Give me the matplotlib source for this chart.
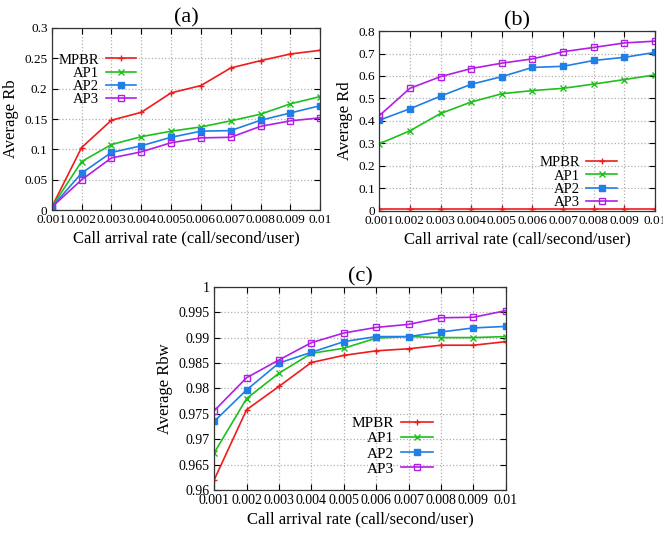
import numpy as np
import matplotlib
matplotlib.use("Agg")
import matplotlib.pyplot as plt
from matplotlib.ticker import FuncFormatter

plt.rcParams['font.family'] = ['Liberation Serif', 'DejaVu Serif']

# data
rate = [0.001, 0.002, 0.003, 0.004, 0.005, 0.006, 0.007, 0.008, 0.009, 0.01]
rate_labels = ['0.001', '0.002', '0.003', '0.004', '0.005', '0.006', '0.007', '0.008', '0.009', '0.01']
series = ['MPBR', 'AP1', 'AP2', 'AP3']

rb_mpbr = [0.005, 0.103, 0.148, 0.161, 0.193, 0.205, 0.234, 0.246, 0.257, 0.263]
rb_ap1 = [0.005, 0.080, 0.108, 0.121, 0.130, 0.137, 0.147, 0.158, 0.175, 0.187]
rb_ap2 = [0.005, 0.061, 0.095, 0.106, 0.120, 0.130, 0.131, 0.148, 0.160, 0.172]
rb_ap3 = [0.005, 0.050, 0.086, 0.096, 0.111, 0.119, 0.120, 0.138, 0.147, 0.152]

rd_mpbr = [0.008] * 10
rd_ap1 = [0.298, 0.356, 0.433, 0.484, 0.521, 0.535, 0.545, 0.564, 0.584, 0.605]
rd_ap2 = [0.403, 0.454, 0.510, 0.563, 0.597, 0.638, 0.643, 0.669, 0.683, 0.705]
rd_ap3 = [0.423, 0.545, 0.597, 0.633, 0.657, 0.676, 0.708, 0.727, 0.747, 0.755]

rbw_mpbr = [0.9620, 0.9758, 0.9804, 0.9851, 0.9865, 0.9874, 0.9878, 0.9885, 0.9885, 0.9892]
rbw_ap1 = [0.9673, 0.9780, 0.9830, 0.9869, 0.9879, 0.9899, 0.9902, 0.9900, 0.9900, 0.9902]
rbw_ap2 = [0.9735, 0.9797, 0.9850, 0.9871, 0.9892, 0.9902, 0.9902, 0.9911, 0.9919, 0.9922]
rbw_ap3 = [0.9756, 0.9821, 0.9856, 0.9890, 0.9909, 0.9920, 0.9926, 0.9939, 0.9940, 0.9953]

colors = ['#ee1c1c', '#1fbf1f', '#1f7fe6', '#b01fe6']
markers = ['+', 'x', 's', 's']
mfc = [None, None, None, 'none']


def gfmt(v, pos):
    return '%g' % round(v, 6)


def panel(ax, data, title, ylabel, ylim, yticks, leg_loc, leg_anchor, fs=9.5, lfs=10.5, lsp=0.0):
    for k in range(4):
        kw = dict(color=colors[k], marker=markers[k], markersize=4, linewidth=1.2,
                  markeredgewidth=1.0, label=series[k])
        if mfc[k] is not None:
            kw['markerfacecolor'] = mfc[k]
        ax.plot(rate, data[k], **kw)
    ax.set_xlim(0.001, 0.01)
    ax.set_ylim(*ylim)
    ax.set_xticks(rate)
    ax.set_xticklabels(rate_labels)
    ax.set_yticks(yticks)
    ax.yaxis.set_major_formatter(FuncFormatter(gfmt))
    ax.tick_params(direction='in', top=True, right=True, labelsize=fs, length=4, pad=3)
    ax.grid(True, color='#b0b0b0', linestyle=':', linewidth=0.9)
    for s in ax.spines.values():
        s.set_color('#333333')
        s.set_linewidth(0.9)
    ax.set_title(title, fontsize=16, pad=4)
    ax.set_ylabel(ylabel, fontsize=12, labelpad=4)
    ax.set_xlabel('Call arrival rate (call/second/user)', fontsize=12, labelpad=3)
    ax.legend(loc=leg_loc, bbox_to_anchor=leg_anchor, frameon=False, markerfirst=False,
              fontsize=lfs, handlelength=2.1, labelspacing=lsp, handletextpad=0.45,
              borderaxespad=0, borderpad=0)


fig = plt.figure(figsize=(6.63, 5.35), dpi=100)

ax1 = fig.add_axes([0.078, 0.607, 0.405, 0.341])
panel(ax1, [rb_mpbr, rb_ap1, rb_ap2, rb_ap3], '(a)', 'Average Rb', (0, 0.3),
      np.arange(0, 0.301, 0.05), 'upper right', (0.315, 0.86))

ax2 = fig.add_axes([0.572, 0.606, 0.416, 0.336])
panel(ax2, [rd_mpbr, rd_ap1, rd_ap2, rd_ap3], '(b)', 'Average Rd', (0, 0.8),
      np.arange(0, 0.801, 0.1), 'lower right', (0.862, 0.01))

ax3 = fig.add_axes([0.323, 0.084, 0.440, 0.380])
panel(ax3, [rbw_mpbr, rbw_ap1, rbw_ap2, rbw_ap3], '(c)', 'Average Rbw', (0.96, 1.0),
      np.arange(0.96, 1.0001, 0.005), 'lower right', (0.75, 0.07), fs=10, lfs=11, lsp=0.1)

fig.savefig('out.png', dpi=100)
